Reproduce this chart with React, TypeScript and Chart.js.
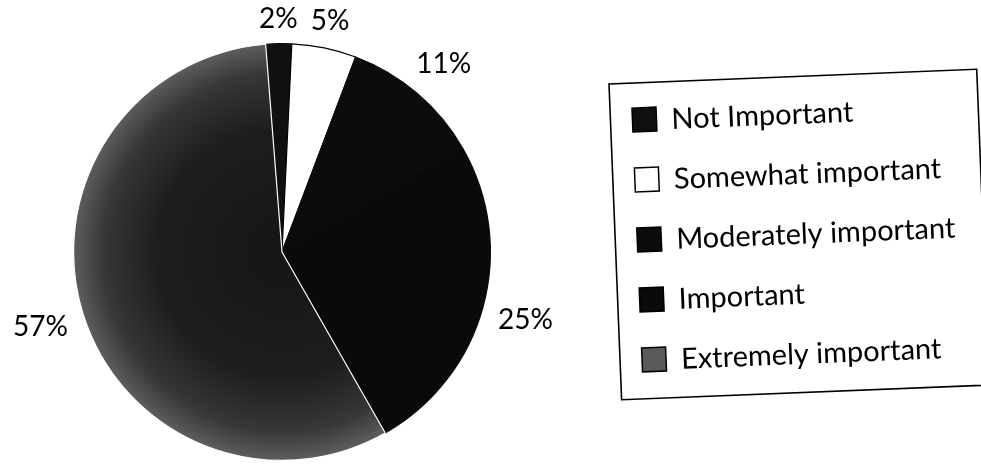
import React, { useEffect, useRef } from "react";
import { Chart, registerables } from "chart.js";

Chart.register(...registerables);

const categories = [
  "Not Important",
  "Somewhat important",
  "Moderately important",
  "Important",
  "Extremely important",
];
const percentages = [2, 5, 11, 25, 57];
const fillColors = ["#101010", "#ffffff", "#0c0c0c", "#0a0a0a", "#5a5a5a"];
const edgeColors = ["#101010", "#000000", "#0c0c0c", "#0a0a0a", "#ffffff"];

const FONT = "Lato, 'DejaVu Sans', sans-serif";

const percentLabels = {
  id: "percentLabels",
  afterDatasetsDraw(chart: any) {
    const ctx = chart.ctx;
    const meta = chart.getDatasetMeta(0);
    ctx.save();
    ctx.font = `28px ${FONT}`;
    ctx.fillStyle = "#000";
    ctx.textAlign = "center";
    ctx.textBaseline = "middle";
    meta.data.forEach((arc: any, i: number) => {
      const p = arc.getProps(["x", "y", "startAngle", "endAngle", "outerRadius"], true);
      const mid = (p.startAngle + p.endAngle) / 2;
      const text = `${percentages[i]}%`;
      const w = ctx.measureText(text).width;
      const h = 20;
      const c = Math.cos(mid);
      const s = Math.sin(mid);
      const off = 15 + Math.abs(c) * w / 2 + Math.abs(s) * h / 2;
      const r = p.outerRadius + off;
      ctx.fillText(text, p.x + c * r, p.y + s * r + 1);
    });
    ctx.restore();
  },
};

const boxLegend = {
  id: "boxLegend",
  afterDraw(chart: any) {
    const ctx = chart.ctx;
    ctx.save();
    ctx.translate(609, 84);
    ctx.rotate(-0.04);
    ctx.lineWidth = 1.6;
    ctx.strokeStyle = "#000";
    ctx.strokeRect(0, 0, 368, 316);
    ctx.font = `29px ${FONT}`;
    ctx.textAlign = "left";
    ctx.textBaseline = "middle";
    chart.data.labels.forEach((label: string, i: number) => {
      const y = 37 + i * 60;
      ctx.fillStyle = fillColors[i];
      ctx.fillRect(22, y - 12, 24, 24);
      ctx.lineWidth = 1.5;
      ctx.strokeStyle = "#000";
      ctx.strokeRect(22, y - 12, 24, 24);
      ctx.fillStyle = "#000";
      ctx.fillText(label, 61, y + 1);
    });
    ctx.restore();
  },
};

function sliceFill(c: any) {
  const i = c.dataIndex;
  if (i !== 4) return fillColors[i];
  const chart = c.chart;
  const a = chart.chartArea;
  if (!a) return fillColors[i];
  const cx = (a.left + a.right) / 2;
  const cy = (a.top + a.bottom) / 2;
  const r = Math.min(a.right - a.left, a.bottom - a.top) / 2;
  const g = chart.ctx.createRadialGradient(cx, cy, 0, cx, cy, r);
  g.addColorStop(0, "#151515");
  g.addColorStop(0.6, "#1e1e1e");
  g.addColorStop(0.85, "#363636");
  g.addColorStop(1, "#5e5e5e");
  return g;
}

export default function App() {
  const ref = useRef<HTMLCanvasElement | null>(null);
  useEffect(() => {
    let chart: Chart | null = null;
    let cancelled = false;
    const make = () => {
      if (cancelled || !ref.current) return;
      chart = new Chart(ref.current, {
        type: "pie",
        data: {
          labels: categories,
          datasets: [
            {
              data: percentages,
              backgroundColor: sliceFill,
              borderColor: edgeColors,
              borderWidth: 1.2,
            },
          ],
        },
        options: {
          animation: false,
          responsive: false,
          devicePixelRatio: 1,
          rotation: -4.5,
          layout: { padding: { left: 73, right: 490, top: 43, bottom: 4 } },
          plugins: {
            legend: { display: false },
            tooltip: { enabled: false },
            title: { display: false },
          },
        },
        plugins: [percentLabels, boxLegend],
      } as any);
    };
    const fonts: any = (document as any).fonts;
    if (fonts && fonts.load) {
      fonts.load(`28px Lato`).then(make, make);
    } else {
      make();
    }
    return () => {
      cancelled = true;
      if (chart) chart.destroy();
    };
  }, []);
  return (
    <div style={{ position: "absolute", left: 0, top: 0, width: 981, height: 465, background: "#fff" }}>
      <canvas ref={ref} width={981} height={465} style={{ display: "block" }} />
    </div>
  );
}
